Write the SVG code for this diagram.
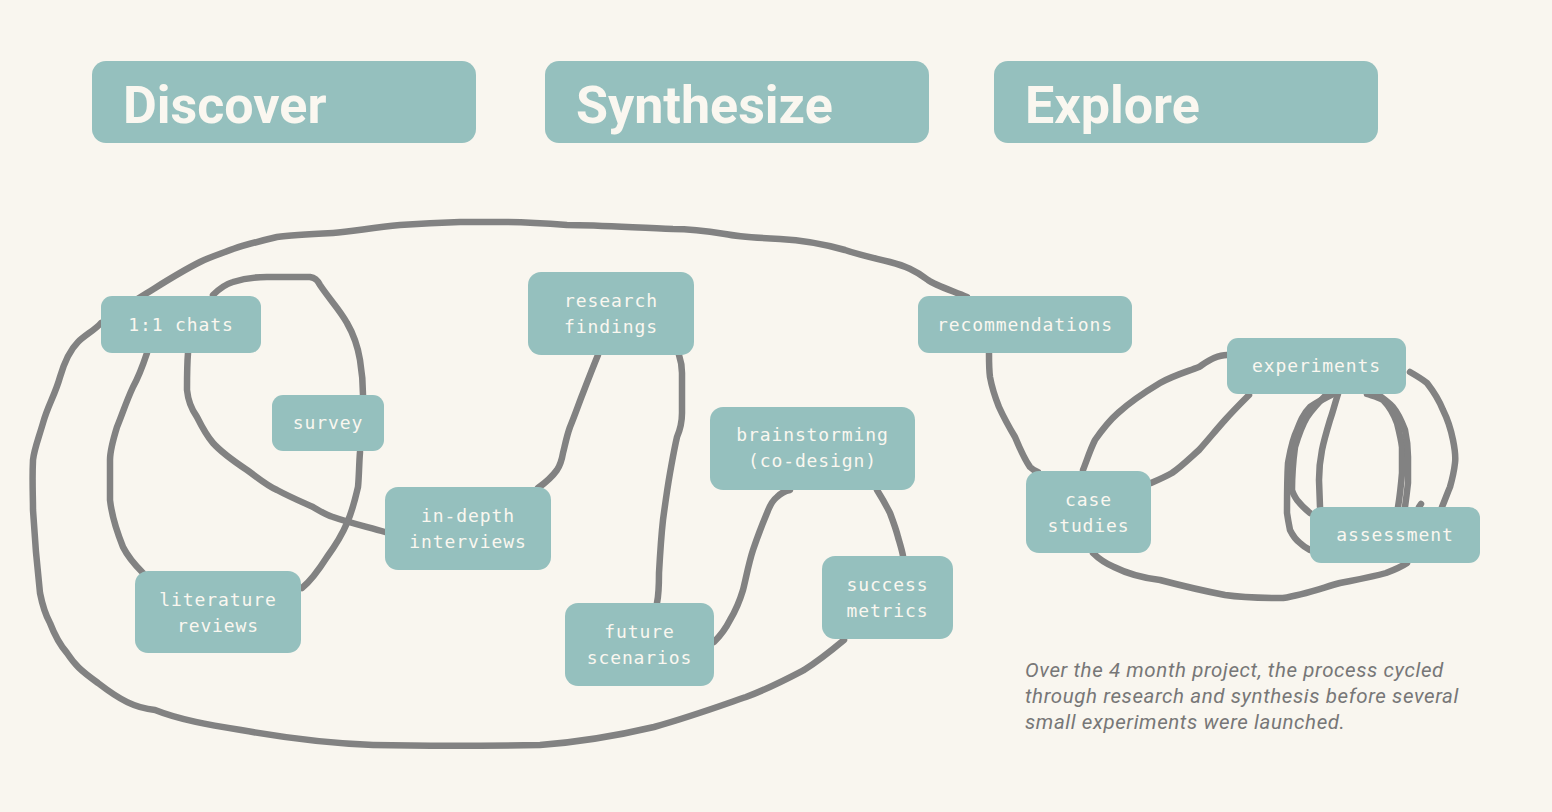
<svg xmlns="http://www.w3.org/2000/svg" width="1552" height="812" viewBox="0 0 1552 812">
<style>
.bg{fill:#f9f6ef}
.hdr rect{fill:#95c0be}
.hdr text{font-family:Roboto,"Liberation Sans",sans-serif;font-weight:700;font-size:52px;fill:#faf7f0}
.node rect{fill:#95c0be}
.node text{font-family:"DejaVu Sans Mono","Liberation Mono",monospace;font-size:18px;letter-spacing:0.9px;fill:#faf7f0;text-anchor:middle}
#connectors path{fill:none;stroke:#828282;stroke-width:6.5;stroke-linecap:round;stroke-linejoin:round}
.cap{font-family:Roboto,"Liberation Sans",sans-serif;font-style:italic;font-size:20.5px;letter-spacing:0.6px;fill:#777777}
</style>
<rect class="bg" x="0" y="0" width="1552" height="812"/>

<g id="headers">
<g id="h-discover" class="hdr"><rect x="92" y="61" width="384" height="82" rx="14"/><text x="123" y="123">Discover</text></g>
<g id="h-synthesize" class="hdr"><rect x="545" y="61" width="384" height="82" rx="14"/><text x="576" y="123">Synthesize</text></g>
<g id="h-explore" class="hdr"><rect x="994" y="61" width="384" height="82" rx="14"/><text x="1025" y="123">Explore</text></g>
</g>

<g id="connectors">
<path d="M967,297 C950,290 935,285 928,280 C915,270 905,266 890,262 C870,257 860,255 845,250 C820,243 800,240 780,239 C760,238 740,237 725,234 C700,230 690,229 673,229 C640,228 600,225 567,225 C540,223 520,222 500,222 C480,222 470,222 460,222 C430,223 415,224 400,225 C370,228 350,232 333,233 C310,234 290,235 277,237 C260,241 245,245 233,249 C220,254 210,257 200,262 C180,272 160,285 147,293 L120,310 C110,318 105,322 101,323 C95,330 85,335 78,342 C70,350 65,360 60,377 C55,395 48,405 43,423 C38,440 34,450 33,460 C32,480 33,495 33,510 C35,545 38,575 40,593 C43,608 45,614 50,623 C55,636 60,645 67,653 C75,665 80,670 98,683 C120,700 135,708 155,710 C180,720 210,725 241,730 C280,737 320,743 373,745 C420,746 480,746 540,745 C580,742 620,735 654,727 C690,717 720,706 746,697 C770,688 785,680 804,670 C820,660 832,650 844,640"/>
<path d="M147,353 C142,368 138,378 133,387 C126,402 122,415 117,427 C113,440 110,450 110,460 L110,500 C112,518 117,532 123,547 C128,557 136,566 143,573"/>
<path d="M213,295 C220,288 226,284 233,282 C245,278 255,277 267,277 L310,277 C316,278 318,281 320,285 C330,300 340,310 347,323 C354,335 358,348 360,360 C362,372 363,383 363,395"/>
<path d="M360,452 C359,465 359,477 358,487 C355,500 352,512 347,523 C342,535 335,546 327,557 C320,568 312,580 302,588"/>
<path d="M188,353 C187,365 187,380 187,390 C188,400 192,410 197,417 C202,427 206,435 213,443 C222,453 235,462 247,470 C257,477 266,485 277,490 C290,497 302,502 313,507 C320,511 326,515 333,517 C350,523 368,527 385,532"/>
<path d="M538,488 C545,483 552,477 557,470 C561,464 562,459 563,453 C565,445 567,435 570,427 C575,415 579,403 583,393 C588,380 593,367 598,355"/>
<path d="M679,355 C681,361 682,366 682,373 L682,413 C682,423 680,430 677,437 C674,450 672,462 670,473 C667,490 665,505 663,520 C661,538 660,555 659,573 C659,585 659,593 657,603"/>
<path d="M714,642 C720,636 725,630 730,620 C736,610 740,600 743,590 C746,578 749,562 753,550 C757,538 762,525 767,513 C770,505 773,500 777,497 C781,493 785,491 790,490"/>
<path d="M877,490 C882,498 886,505 890,513 C893,521 896,529 898,537 C900,544 902,550 903,556"/>
<path d="M989,353 C989,362 989,370 990,377 C992,388 995,397 999,407 C1004,418 1009,427 1015,437 C1020,449 1025,460 1030,467 C1033,470 1035,471 1038,472"/>
<path d="M1083,470 C1087,460 1090,450 1095,440 C1102,430 1110,420 1118,413 C1130,402 1145,392 1160,383 C1172,376 1186,372 1199,367 C1205,363 1209,360 1214,358 C1219,356 1223,355 1227,355"/>
<path d="M1151,483 C1158,480 1165,477 1172,473 C1182,466 1190,458 1199,450 C1208,440 1216,430 1225,420 C1233,411 1241,403 1249,395"/>
<path d="M1093,553 C1100,560 1107,564 1114,567 C1128,574 1143,578 1160,580 C1183,586 1204,591 1225,595 C1245,598 1265,598 1283,598 C1303,595 1322,588 1340,583 C1355,580 1372,577 1386,573 C1394,570 1401,567 1407,563"/>
<path d="M1410,372 C1417,376 1422,379 1427,383 C1434,392 1439,400 1443,410 C1448,420 1451,430 1453,440 C1455,450 1456,456 1455,463 C1454,472 1452,480 1450,487 C1447,494 1445,500 1442,507"/>
<path d="M1333,394 C1323,399 1316,403 1310,407 C1303,414 1300,422 1297,430 C1292,440 1290,452 1288,463 C1287,480 1287,497 1287,513 C1288,520 1289,525 1290,530 C1293,536 1296,540 1300,543 C1303,546 1306,548 1310,550"/>
<path d="M1327,394 C1318,403 1312,410 1307,417 C1301,427 1298,437 1295,447 C1293,462 1292,476 1292,490 C1293,494 1295,497 1297,500 C1301,505 1305,509 1310,513"/>
<path d="M1338,394 C1335,403 1333,412 1330,420 C1327,430 1324,440 1322,450 C1320,460 1319,470 1319,480 L1320,507"/>
<path d="M1367,394 C1373,396 1378,397 1383,400 C1390,407 1394,415 1397,423 C1399,431 1401,439 1402,447 L1402,473 C1401,485 1400,495 1398,507"/>
<path d="M1377,394 C1384,399 1389,403 1393,407 C1399,414 1402,422 1405,430 C1407,439 1408,448 1408,457 L1408,483 C1407,492 1406,500 1405,507"/>
<path d="M1419,507 L1421,504"/>
</g>

<g id="n-chats" class="node"><rect x="101" y="296" width="160" height="57" rx="11"/><text x="181" y="331">1:1 chats</text></g>
<g id="n-survey" class="node"><rect x="272" y="395" width="112" height="56" rx="11"/><text x="328" y="429">survey</text></g>
<g id="n-literature" class="node"><rect x="135" y="571" width="166" height="82" rx="13"/><text x="218" y="606">literature</text><text x="218" y="632">reviews</text></g>
<g id="n-interviews" class="node"><rect x="385" y="487" width="166" height="83" rx="13"/><text x="468" y="522">in-depth</text><text x="468" y="548">interviews</text></g>
<g id="n-research" class="node"><rect x="528" y="272" width="166" height="83" rx="13"/><text x="611" y="307">research</text><text x="611" y="333">findings</text></g>
<g id="n-brainstorming" class="node"><rect x="710" y="407" width="205" height="83" rx="13"/><text x="812.5" y="441">brainstorming</text><text x="812.5" y="467">(co-design)</text></g>
<g id="n-future" class="node"><rect x="565" y="603" width="149" height="83" rx="13"/><text x="639.5" y="638">future</text><text x="639.5" y="664">scenarios</text></g>
<g id="n-success" class="node"><rect x="822" y="556" width="131" height="83" rx="13"/><text x="887.5" y="591">success</text><text x="887.5" y="617">metrics</text></g>
<g id="n-recommendations" class="node"><rect x="918" y="296" width="214" height="57" rx="11"/><text x="1025" y="331">recommendations</text></g>
<g id="n-experiments" class="node"><rect x="1227" y="338" width="179" height="56" rx="11"/><text x="1316.5" y="372">experiments</text></g>
<g id="n-case" class="node"><rect x="1026" y="471" width="125" height="82" rx="13"/><text x="1088.5" y="506">case</text><text x="1088.5" y="532">studies</text></g>
<g id="n-assessment" class="node"><rect x="1310" y="507" width="170" height="56" rx="11"/><text x="1395" y="541">assessment</text></g>

<g id="caption">
<text class="cap" x="1025" y="677">Over the 4 month project, the process cycled</text>
<text class="cap" x="1025" y="703">through research and synthesis before several</text>
<text class="cap" x="1025" y="729">small experiments were launched.</text>
</g>
</svg>
